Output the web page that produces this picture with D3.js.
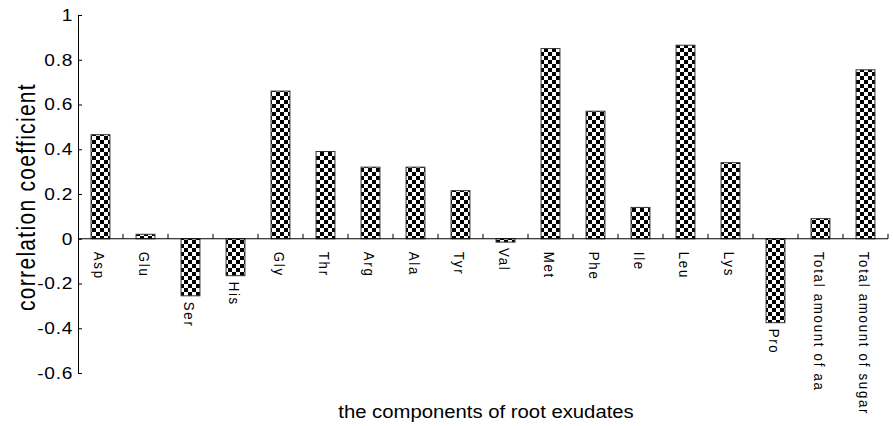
<!DOCTYPE html>
<html>
<head>
<meta charset="utf-8">
<script src="https://cdn.jsdelivr.net/npm/d3@7"></script>
<style>
    body{margin:0;background:#fff;}
    text{font-family:"Liberation Sans",Arial,Helvetica,sans-serif;fill:#000;}
</style>
</head>
<body>
<svg id="chart" width="893" height="426"></svg>
<script>
// values
var categories=["Asp","Glu","Ser","His","Gly","Thr","Arg","Ala","Tyr","Val","Met","Phe","Ile","Leu","Lys","Pro","Total amount of aa","Total amount of sugar"];
var values=[0.465,0.02,-0.255,-0.165,0.66,0.39,0.32,0.32,0.215,-0.015,0.85,0.57,0.14,0.865,0.34,-0.375,0.09,0.755];
var yTicks=[-0.6,-0.4,-0.2,0,0.2,0.4,0.6,0.8,1];
var yTickLabels=["-0.6","-0.4","-0.2","0","0.2","0.4","0.6","0.8","1"];

var space={left:78,right:888,top:15,bottom:373};
var stretch=1.16; // the figure's text looks a bit wider than tall

var svg=d3.select("#chart");

//checker fill
var pat=svg.append("defs").append("pattern")
    .attr("id","checker")
    .attr("patternUnits","userSpaceOnUse")
    .attr("width",8).attr("height",8);
pat.append("rect").attr("width",8).attr("height",8).attr("fill","#fff");
pat.append("rect").attr("width",4).attr("height",4).attr("fill","#000");
pat.append("rect").attr("x",4).attr("y",4).attr("width",4).attr("height",4).attr("fill","#000");

var y=d3.scaleLinear().domain([-0.6,1]).range([space.bottom,space.top]);
var x=d3.scaleBand().domain(categories).range([space.left,space.right])
    .paddingInner(0.58).paddingOuter(0.29);
var xb=d3.scaleBand().domain(categories).range([space.left,space.right]).padding(0);

// bars
svg.selectAll("rect.bar")
    .data(values)
    .enter()
    .append("rect")
    .attr("class","bar")
    .attr("x",function (d,i) {return x(categories[i])})
    .attr("width",x.bandwidth())
    .attr("y",function (d) {return y(Math.max(0,d))})
    .attr("height",function (d) {return Math.abs(y(d)-y(0))})
    .attr("fill","url(#checker)")
    .attr("stroke","#333")
    .attr("stroke-width",1);

// y axis, ticks pointing in
var yAxis=d3.axisLeft(y).tickValues(yTicks)
    .tickFormat(function (d,i) {return yTickLabels[i]})
    .tickSizeInner(-4).tickSizeOuter(0).tickPadding(6);
var gy=svg.append("g").attr("transform","translate("+space.left+",0)").call(yAxis);
gy.select(".domain").attr("stroke","#000");
gy.selectAll("text")
    .attr("x",0)
    .attr("transform","translate(-5,0) scale("+stretch+",1)")
    .attr("font-family",null)
    .style("font-size","16.5px")
    .style("letter-spacing","0.6px");

// x axis line with small upward ticks at category edges
var y0=y(0);
svg.append("line")
    .attr("x1",space.left).attr("x2",space.right)
    .attr("y1",y0).attr("y2",y0)
    .attr("stroke","#000");
svg.selectAll("line.xtick")
    .data(categories)
    .enter()
    .append("line")
    .attr("class","xtick")
    .attr("x1",function (d) {return xb(d)+xb.bandwidth()})
    .attr("x2",function (d) {return xb(d)+xb.bandwidth()})
    .attr("y1",y0).attr("y2",y0-5)
    .attr("stroke","#000");

// category labels, rotated
svg.selectAll("text.cat")
    .data(categories)
    .enter()
    .append("text")
    .attr("class","cat")
    .text(function (d) {return d})
    .attr("transform",function (d,i) {
        var cx=x(d)+x.bandwidth()/2-1;
        var cy=values[i]<0 ? y(values[i])+6 : y0+13;
        return "translate("+cx+","+cy+") scale("+stretch+",1) rotate(90)"
    })
    .attr("dy","0.35em")
    .style("font-size","13.3px")
    .style("letter-spacing","1.7px");

// axis titles
svg.append("text")
    .text("correlation coefficient")
    .attr("transform","translate(35,197) scale(1.25,1) rotate(-90)")
    .attr("text-anchor","middle")
    .style("font-size","21px")
    .style("letter-spacing","1.3px");

svg.append("text")
    .text("the components of root exudates")
    .attr("transform","translate(486,418) scale("+stretch+",1)")
    .attr("text-anchor","middle")
    .style("font-size","17.5px");
</script>
</body>
</html>
